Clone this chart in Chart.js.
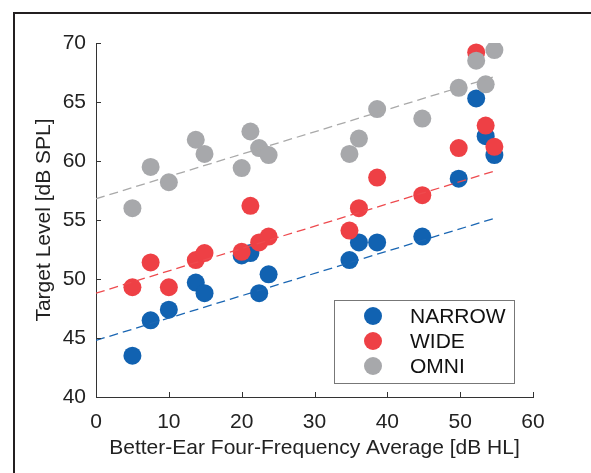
<!DOCTYPE html>
<html>
<head>
<meta charset="utf-8">
<script src="https://cdn.jsdelivr.net/npm/chart.js@4.4.1/dist/chart.umd.min.js"></script>
<style>
    html, body { margin: 0; padding: 0; background: #fff; }
    #wrap { position: relative; width: 591px; height: 473px; }
    #frame { position: absolute; left: 13px; top: 12px; right: 0; bottom: 0; border-left: 2px solid #231f20; border-top: 2px solid #231f20; pointer-events: none; }
</style>
</head>
<body>
<div id="wrap">
    <canvas id="chart" width="591" height="473"></canvas>
    <div id="frame"></div>
</div>
<script>
const hearingLoss = [5, 7.5, 10, 13.7, 14.9, 20, 21.2, 22.4, 23.7, 34.8, 36.1, 38.6, 44.8, 49.8, 52.2, 53.5, 54.7];
const narrowLevels = [43.5, 46.5, 47.4, 49.7, 48.8, 52.0, 52.2, 48.8, 50.4, 51.6, 53.1, 53.1, 53.6, 58.5, 65.3, 62.1, 60.5];
const wideLevels = [49.3, 51.4, 49.3, 51.6, 52.2, 52.3, 56.2, 53.1, 53.6, 54.1, 56.0, 58.6, 57.1, 61.1, 69.2, 63.0, 61.2];
const omniLevels = [56.0, 59.5, 58.2, 61.8, 60.6, 59.4, 62.5, 61.1, 60.5, 60.6, 61.9, 64.4, 63.6, 66.2, 68.5, 66.5, 69.4];

// dashed fit lines at both ends
const fitX = [0, 55];
const narrowFit = [44.8, 55.2];
const wideFit = [48.8, 59.2];
const omniFit = [56.8, 67.2];

const xTicks = [0, 10, 20, 30, 40, 50, 60];
const yTicks = [40, 45, 50, 55, 60, 65, 70];

const seriesNames = ['NARROW', 'WIDE', 'OMNI'];
const colors = ['#1162b1', '#ee4045', '#a7a8ab'];
const lineColors = ['#1a66b3', '#ee4a4e', '#a9a9a9'];

Chart.defaults.font.family = '"Liberation Sans", Arial, Helvetica, sans-serif';
Chart.defaults.color = '#222';

function toPoints(ys) {
    return hearingLoss.map((x, i) => ({ x: x, y: ys[i] }));
}
function toLine(ys) {
    return fitX.map((x, i) => ({ x: x, y: ys[i] }));
}

// MATLAB style tick marks pointing into the axes
const innerTicks = {
    id: 'innerTicks',
    afterDraw(chart) {
        const ctx = chart.ctx;
        const xs = chart.scales.x, ys = chart.scales.y;
        const area = chart.chartArea;
        ctx.save();
        ctx.strokeStyle = '#333';
        ctx.lineWidth = 1;
        ctx.beginPath();
        xTicks.forEach(v => {
            const px = Math.round(xs.getPixelForValue(v)) + 0.5;
            ctx.moveTo(px, area.bottom);
            ctx.lineTo(px, area.bottom - 5);
        });
        yTicks.forEach(v => {
            const py = Math.round(ys.getPixelForValue(v)) + 0.5;
            ctx.moveTo(area.left, py);
            ctx.lineTo(area.left + 5, py);
        });
        ctx.stroke();
        ctx.restore();
    }
};

// legend box inside the lower right of the plot
const boxLegend = {
    id: 'boxLegend',
    afterDraw(chart) {
        const ctx = chart.ctx;
        const area = chart.chartArea;
        const w = 180, h = 83;
        const bx = area.right - 19 - w;
        const by = area.bottom - 14 - h;
        ctx.save();
        ctx.fillStyle = '#fff';
        ctx.fillRect(bx, by, w, h);
        ctx.strokeStyle = '#777';
        ctx.lineWidth = 1;
        ctx.strokeRect(Math.round(bx) + 0.5, Math.round(by) + 0.5, w, h);
        ctx.font = '21px "Liberation Sans", Arial, Helvetica, sans-serif';
        ctx.textBaseline = 'middle';
        ctx.textAlign = 'left';
        seriesNames.forEach((name, i) => {
            const cy = by + 16 + i * 25;
            ctx.fillStyle = colors[i];
            ctx.beginPath();
            ctx.arc(bx + 39, cy, 9, 0, Math.PI * 2);
            ctx.fill();
            ctx.fillStyle = '#111';
            ctx.fillText(name, bx + 76, cy + 1);
        });
        ctx.restore();
    }
};

const ctx = document.getElementById('chart').getContext('2d');
new Chart(ctx, {
    type: 'scatter',
    data: {
        datasets: [
            { type: 'line', data: toLine(narrowFit), borderColor: lineColors[0], borderWidth: 1.3, borderDash: [9, 5], pointRadius: 0, fill: false, order: 0 },
            { type: 'line', data: toLine(wideFit), borderColor: lineColors[1], borderWidth: 1.3, borderDash: [9, 5], pointRadius: 0, fill: false, order: 0 },
            { type: 'line', data: toLine(omniFit), borderColor: lineColors[2], borderWidth: 1.3, borderDash: [9, 5], pointRadius: 0, fill: false, order: 0 },
            { label: seriesNames[2], data: toPoints(omniLevels), backgroundColor: colors[2], pointRadius: 9, pointBorderWidth: 0, order: 1 },
            { label: seriesNames[1], data: toPoints(wideLevels), backgroundColor: colors[1], pointRadius: 9, pointBorderWidth: 0, order: 2 },
            { label: seriesNames[0], data: toPoints(narrowLevels), backgroundColor: colors[0], pointRadius: 9, pointBorderWidth: 0, order: 3 }
        ]
    },
    options: {
        responsive: false,
        animation: false,
        devicePixelRatio: 1,
        layout: { padding: { left: 0, top: 43, right: 58, bottom: 0 } },
        plugins: {
            legend: { display: false },
            tooltip: { enabled: false }
        },
        scales: {
            x: {
                type: 'linear',
                min: 0,
                max: 60,
                afterBuildTicks: s => { s.ticks = xTicks.map(v => ({ value: v })); },
                afterFit: s => { s.height = 76; },
                grid: { display: false, drawTicks: false },
                border: { display: true, color: '#333', width: 1 },
                ticks: { font: { size: 21 }, color: '#222', padding: 13 },
                title: {
                    display: true,
                    text: 'Better-Ear Four-Frequency Average [dB HL]',
                    font: { size: 21 },
                    color: '#222',
                    padding: { top: 0, bottom: 12 }
                }
            },
            y: {
                type: 'linear',
                min: 40,
                max: 70,
                afterBuildTicks: s => { s.ticks = yTicks.map(v => ({ value: v })); },
                afterFit: s => { s.width = 96; },
                grid: { display: false, drawTicks: false },
                border: { display: true, color: '#333', width: 1 },
                ticks: { font: { size: 21 }, color: '#222', padding: 10 },
                title: {
                    display: true,
                    text: 'Target Level [dB SPL]',
                    font: { size: 21 },
                    color: '#222',
                    padding: { top: 32, bottom: 0 }
                }
            }
        }
    },
    plugins: [innerTicks, boxLegend]
});
</script>
</body>
</html>
